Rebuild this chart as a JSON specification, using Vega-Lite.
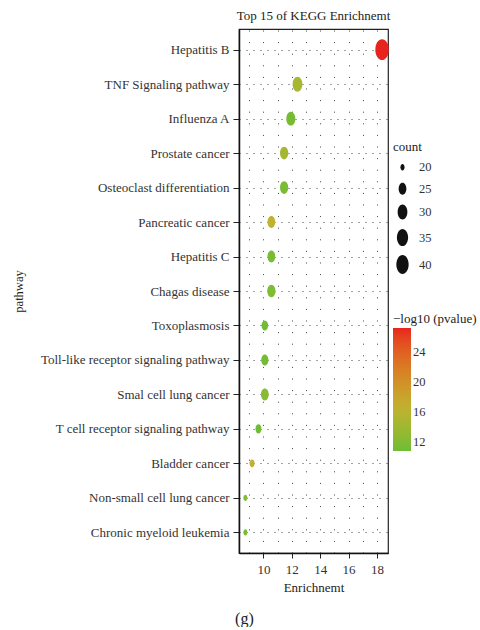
{
  "$schema": "https://vega.github.io/schema/vega-lite/v6.json",
  "padding": {"left": 11, "top": 9, "right": 0, "bottom": 0},
  "background": "white",
  "config": {
    "font": "Liberation Serif",
    "view": {"stroke": "#222", "strokeWidth": 1.2},
    "concat": {"spacing": 0}
  },
  "title": {"text": "(g)", "orient": "bottom", "anchor": "middle", "fontSize": 16, "fontWeight": "normal", "color": "#222", "offset": 16},
  "vconcat": [
    {
      "title": {"text": "Top 15 of KEGG Enrichnemt", "frame": "group", "anchor": "middle", "fontSize": 13, "fontWeight": "normal", "color": "#222", "offset": 6},
      "width": 149,
      "height": 524,
      "data": {
        "values": [
          {"pathway": "Hepatitis B", "Enrichment": 18.36, "count": 47, "pvalue": 27.24},
          {"pathway": "TNF Signaling pathway", "Enrichment": 12.4, "count": 30, "pvalue": 14.6},
          {"pathway": "Influenza A", "Enrichment": 11.93, "count": 28, "pvalue": 11.2},
          {"pathway": "Prostate cancer", "Enrichment": 11.46, "count": 26, "pvalue": 14.4},
          {"pathway": "Osteoclast differentiation", "Enrichment": 11.46, "count": 26, "pvalue": 11.6},
          {"pathway": "Pancreatic cancer", "Enrichment": 10.56, "count": 25, "pvalue": 16.4},
          {"pathway": "Hepatitis C", "Enrichment": 10.56, "count": 25, "pvalue": 11.3},
          {"pathway": "Chagas disease", "Enrichment": 10.56, "count": 26, "pvalue": 11.8},
          {"pathway": "Toxoplasmosis", "Enrichment": 10.1, "count": 23, "pvalue": 10.9},
          {"pathway": "Toll-like receptor signaling pathway", "Enrichment": 10.1, "count": 24, "pvalue": 11.2},
          {"pathway": "Smal cell lung cancer", "Enrichment": 10.1, "count": 25, "pvalue": 12.3},
          {"pathway": "T cell receptor signaling pathway", "Enrichment": 9.65, "count": 22, "pvalue": 10.73},
          {"pathway": "Bladder cancer", "Enrichment": 9.2, "count": 21, "pvalue": 16.7},
          {"pathway": "Non-small cell lung cancer", "Enrichment": 8.73, "count": 20, "pvalue": 12.0},
          {"pathway": "Chronic myeloid leukemia", "Enrichment": 8.73, "count": 20, "pvalue": 11.5}
        ]
      },
      "mark": {"type": "point", "filled": true, "opacity": 1, "strokeWidth": 0, "shape": "M-0.65,0A0.65,1,0,1,0,0.65,0A0.65,1,0,1,0,-0.65,0Z"},
      "encoding": {
        "y": {
          "field": "pathway", "type": "nominal",
          "sort": ["Hepatitis B", "TNF Signaling pathway", "Influenza A", "Prostate cancer", "Osteoclast differentiation", "Pancreatic cancer", "Hepatitis C", "Chagas disease", "Toxoplasmosis", "Toll-like receptor signaling pathway", "Smal cell lung cancer", "T cell receptor signaling pathway", "Bladder cancer", "Non-small cell lung cancer", "Chronic myeloid leukemia"],
          "scale": {"type": "point", "padding": 0.6},
          "axis": {
            "title": "pathway", "titleFontSize": 12.5, "titleFontWeight": "normal", "titleColor": "#222", "titlePadding": 15,
            "labelFontSize": 13, "labelColor": "#333", "labelPadding": 4, "labelLimit": 400,
            "tickSize": 6, "tickColor": "#222", "domainColor": "#111", "domainWidth": 1.5,
            "grid": true, "gridDash": [1, 6], "gridColor": "#444", "gridWidth": 1
          }
        },
        "x": {
          "field": "Enrichment", "type": "quantitative",
          "scale": {"domain": [8.28, 18.78], "nice": false, "zero": false},
          "axis": {
            "title": "Enrichnemt", "titleFontSize": 13, "titleFontWeight": "normal", "titleColor": "#222", "titlePadding": 5,
            "values": [9, 10, 11, 12, 13, 14, 15, 16, 17, 18],
            "labelExpr": "datum.value % 2 == 0 ? datum.label : ''",
            "labelFontSize": 13, "labelColor": "#333", "labelPadding": 5,
            "tickSize": 5, "tickColor": "#222",
            "tickOpacity": {"condition": {"test": "datum.value % 2 == 1", "value": 0}, "value": 1},
            "domainColor": "#111", "domainWidth": 1.5,
            "grid": true, "gridDash": [1, 10.6], "gridColor": "#444", "gridWidth": 1
          }
        },
        "size": {
          "field": "count", "type": "quantitative",
          "scale": {"type": "log", "domain": [20, 47], "range": [40, 430]},
          "legend": {
            "title": "count", "orient": "none", "legendX": 154, "legendY": 112,
            "values": [20, 25, 30, 35, 40],
            "titleFontSize": 13, "titleFontWeight": "normal", "titleColor": "#222", "titlePadding": 7,
            "labelFontSize": 12.5, "labelColor": "#333", "labelOffset": 7,
            "symbolType": "M-0.65,0A0.65,1,0,1,0,0.65,0A0.65,1,0,1,0,-0.65,0Z",
            "symbolFillColor": "#111", "symbolStrokeWidth": 0, "rowPadding": 8.5, "padding": 0
          }
        },
        "color": {
          "field": "pvalue", "type": "quantitative",
          "scale": {"domain": [10.73, 16.5, 27.24], "range": ["#6dbd35", "#c0b22f", "#e8221e"], "interpolate": "lab"},
          "legend": {
            "title": "−log10 (pvalue)", "orient": "none", "legendX": 154, "legendY": 284,
            "values": [12, 16, 20, 24],
            "titleFontSize": 13, "titleFontWeight": "normal", "titleColor": "#222", "titlePadding": 2,
            "labelFontSize": 12.5, "labelColor": "#333",
            "gradientLength": 123, "gradientThickness": 18, "gradientStrokeWidth": 0, "padding": 0
          }
        }
      }
    }
  ]
}
